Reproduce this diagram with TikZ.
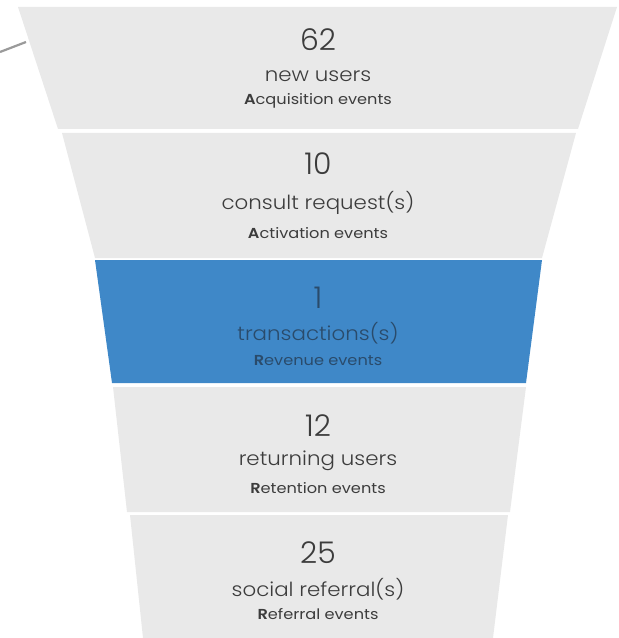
\documentclass[tikz,border=0pt]{standalone}
\usepackage{fontspec}
\setmainfont{Poppins Light}[BoldFont={Poppins SemiBold}]
\newfontfamily\numfont{Poppins Light}
\newfontfamily\labfont{Poppins Light}[FakeStretch=1.1]
\newfontfamily\subfont{Poppins}[FakeStretch=1.12, BoldFont={Poppins SemiBold}]
\definecolor{bandgrey}{HTML}{E9E9E9}
\definecolor{bandblue}{HTML}{3F88C8}
\definecolor{txtgrey}{HTML}{3C3C3C}
\definecolor{txtblue}{HTML}{2A4B6B}
\definecolor{leadgrey}{HTML}{9A9A9A}
\begin{document}
\begin{tikzpicture}[x=1bp,y=-1bp,
  band/.style={fill=bandgrey},
  hiband/.style={fill=bandblue},
  bignum/.style={font=\numfont\fontsize{30}{30}\selectfont, text=txtgrey, inner sep=0},
  label/.style={font=\labfont\fontsize{19.5}{19.5}\selectfont, text=txtgrey, inner sep=0},
  sub/.style={font=\subfont\fontsize{14.5}{14.5}\selectfont, text=txtgrey, inner sep=0},
  leader/.style={draw=leadgrey, line width=2.2bp}]
\useasboundingbox (0,0) rectangle (619,638);

% funnel bands, top to bottom
\fill[band]   (18,7)   -- (617,7)   -- (578,129) -- (58,129)  -- cycle;
\fill[band]   (62,133) -- (576,133) -- (542,258) -- (95,258)  -- cycle;
\fill[hiband] (95,260) -- (542,260) -- (526,383) -- (112,383) -- cycle;
\fill[band]   (113,387)-- (526,387) -- (510,512) -- (127,512) -- cycle;
\fill[band]   (130,515)-- (508,515) -- (493,638) -- (143,638) -- cycle;

% leader line at the upper left
\coordinate (leadA) at (0,52);
\coordinate (leadB) at (26,42);
\draw[leader] (leadA) -- (leadB);

% band texts
\node[bignum] (n1) at (318,40) {62};
\node[label]  (l1) at (318,76) {new users};
\node[sub]    (s1) at (318,101) {\textbf{A}cquisition events};

\node[bignum] (n2) at (318,164) {10};
\node[label]  (l2) at (318,203) {consult request(s)};
\node[sub]    (s2) at (318,233) {\textbf{A}ctivation events};

\node[bignum,text=txtblue] (n3) at (318,298) {1};
\node[label,text=txtblue]  (l3) at (318,333) {transactions(s)};
\node[sub,text=txtblue]    (s3) at (318,361) {\textbf{R}evenue events};

\node[bignum] (n4) at (318,426) {12};
\node[label]  (l4) at (318,461) {returning users};
\node[sub]    (s4) at (318,488) {\textbf{R}etention events};

\node[bignum] (n5) at (318,553) {25};
\node[label]  (l5) at (318,589) {social referral(s)};
\node[sub]    (s5) at (318,614) {\textbf{R}eferral events};
\end{tikzpicture}
\end{document}
